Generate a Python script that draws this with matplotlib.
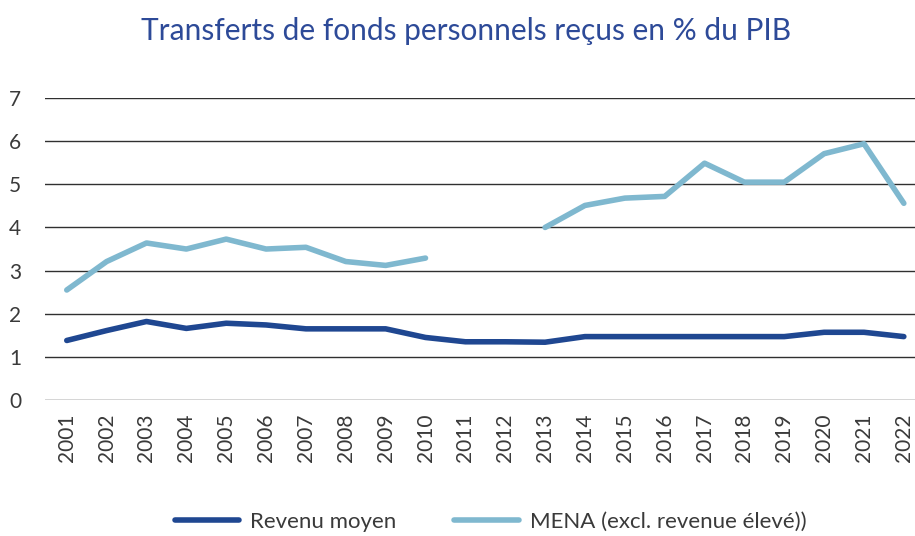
import numpy as np
import matplotlib
matplotlib.use("Agg")
import matplotlib.pyplot as plt

# data
years = [str(y) for y in range(2001, 2023)]
revenu_moyen = [1.38, 1.61, 1.82, 1.66, 1.78, 1.74, 1.65, 1.65, 1.65, 1.45, 1.35,
                1.35, 1.34, 1.47, 1.47, 1.47, 1.47, 1.47, 1.47, 1.57, 1.57, 1.47]
mena = [2.55, 3.21, 3.64, 3.50, 3.73, 3.50, 3.54, 3.21, 3.12, 3.29, np.nan,
        np.nan, 4.00, 4.51, 4.68, 4.72, 5.49, 5.05, 5.05, 5.71, 5.94, 4.56]
yticks = [0, 1, 2, 3, 4, 5, 6, 7]

dark_blue = "#1f4791"
light_blue = "#7fb8cf"
text_grey = "#3a3a3a"

plt.rcParams["font.family"] = ["Lato", "DejaVu Sans"]

fig = plt.figure(figsize=(9.15, 5.36), dpi=100)
ax = fig.add_axes([0.049, 0.2537, 0.951, 0.5634])

x = np.arange(len(years))
ax.plot(x, revenu_moyen, color=dark_blue, lw=4, solid_capstyle="round",
        label="Revenu moyen", zorder=3)
ax.plot(x, mena, color=light_blue, lw=4, solid_capstyle="round",
        label="MENA (excl. revenue élevé))", zorder=3)

ax.set_ylim(0, 7)
ax.set_xlim(-0.55, 21.28)
ax.set_yticks(yticks)
ax.set_yticklabels([str(v) for v in yticks], fontsize=15, color=text_grey)
ax.set_xticks(x)
ax.set_xticklabels(years, rotation=90, fontsize=15, color=text_grey)
ax.tick_params(axis="both", length=0)
ax.tick_params(axis="y", pad=17)
ax.tick_params(axis="x", pad=10)
ax.grid(axis="y", color="#303030", lw=1)
ax.set_axisbelow(True)
for s in ax.spines.values():
    s.set_visible(False)

fig.text(0.509, 0.943, "Transferts de fonds personnels reçus en % du PIB",
         ha="center", va="center", fontsize=21.5, color="#2d4a98")

leg = fig.legend(loc="center", bbox_to_anchor=(0.536, 0.027), ncol=2,
                 frameon=False, fontsize=16, handlelength=2.9,
                 columnspacing=2.6, handletextpad=0.5)
for t in leg.get_texts():
    t.set_color(text_grey)

fig.savefig("out.png", dpi=100)
